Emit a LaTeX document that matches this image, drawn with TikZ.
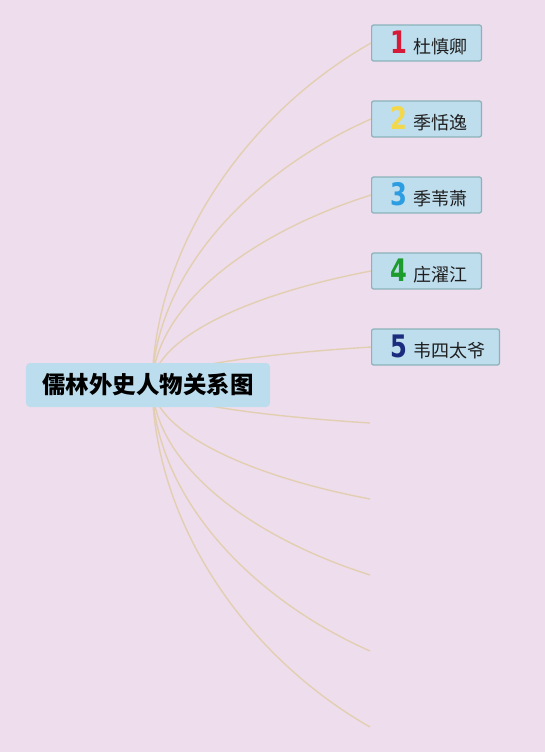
\documentclass[tikz,border=0pt]{standalone}
\usepackage{fontspec}
\setmainfont{Noto Sans CJK SC}
\newfontfamily\numfont{DejaVu Sans Bold}[FakeStretch=0.78]
\usetikzlibrary{positioning, calc, backgrounds}

\definecolor{bgpink}{HTML}{EEDDEC}
\definecolor{rootblue}{HTML}{BCDDEE}
\definecolor{boxblue}{HTML}{BEDDED}
\definecolor{boxedge}{HTML}{8BB2BA}
\definecolor{branchtan}{HTML}{E2CFB2}
\definecolor{numa}{HTML}{D61B38}
\definecolor{numb}{HTML}{F4D84C}
\definecolor{numc}{HTML}{2D9DE2}
\definecolor{numd}{HTML}{1C9C2C}
\definecolor{nume}{HTML}{1B2B7E}

\newcommand{\chiffre}[2]{\hspace*{5bp}{\numfont\fontsize{31bp}{31bp}\selectfont\textcolor{#1}{#2}}\hspace{6bp}}

\begin{document}
\begin{tikzpicture}[
  x=1bp, y=-1bp,
  racine/.style={
    fill=rootblue, rounded corners=4bp,
    minimum width=244bp, minimum height=44bp,
    inner sep=0pt, font=\fontsize{23.5bp}{26bp}\selectfont\bfseries, text=black
  },
  perso/.style={
    draw=boxedge, line width=1.2bp, fill=boxblue, rounded corners=2bp,
    anchor=west, minimum height=36bp, inner xsep=14bp, inner ysep=0pt,
    font=\fontsize{18bp}{20bp}\selectfont, text=black!88
  },
  branche/.style={draw=branchtan, line width=1.4bp}
]
  \useasboundingbox (0,0) rectangle (545,752);

  % Racine
  \node[racine] (root) at (148,385) {儒林外史人物关系图};
  \coordinate (hub) at ([xshift=4bp]root.center);

  % Personnages
  \node[perso] (b1) at (371,43) {\chiffre{numa}{1}杜慎卿};
  \node[perso] (b2) at (371,119) {\chiffre{numb}{2}季恬逸};
  \node[perso] (b3) at (371,195) {\chiffre{numc}{3}季苇萧};
  \node[perso] (b4) at (371,271) {\chiffre{numd}{4}庄濯江};
  \node[perso] (b5) at (371,347) {\chiffre{nume}{5}韦四太爷};

  % Branches libres
  \coordinate (e6) at (370,423);
  \coordinate (e7) at (370,499);
  \coordinate (e8) at (370,575);
  \coordinate (e9) at (370,651);
  \coordinate (e10) at (370,727);

  \begin{scope}[on background layer]
    \fill[bgpink] (0,0) rectangle (545,752);
    \foreach \t in {b1.west, b2.west, b3.west, b4.west, b5.west, e6, e7, e8, e9, e10} {
      \draw[branche] let \p1=(hub), \p2=(\t) in
        (\p1) .. controls (\x1+0.014*\x2-0.014*\x1, \y1+0.42*\y2-0.42*\y1)
                     and (\x1+0.45*\x2-0.45*\x1, \y1+0.8*\y2-0.8*\y1) .. (\p2);
    }
  \end{scope}

\end{tikzpicture}
\end{document}
